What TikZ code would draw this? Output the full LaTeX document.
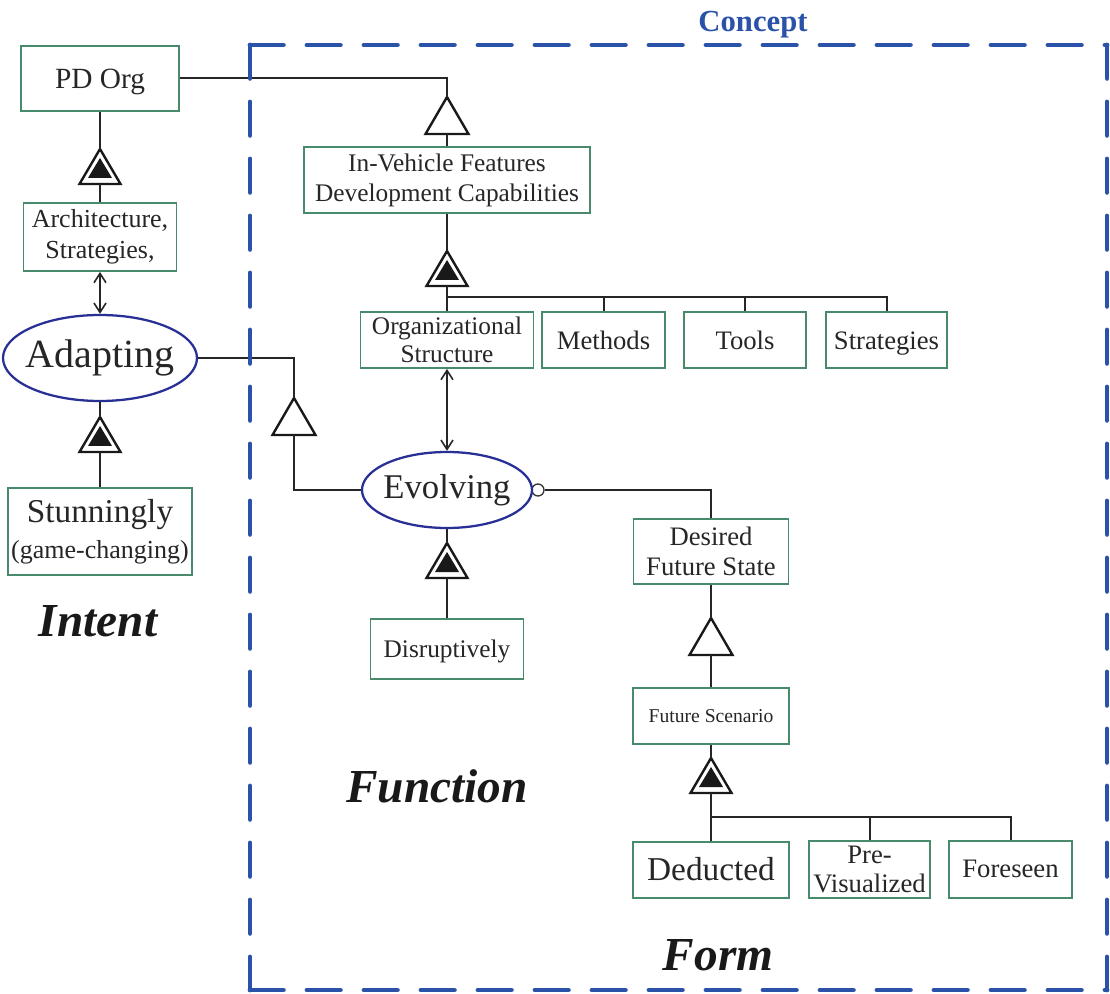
\documentclass[tikz,border=0pt]{standalone}
\usepackage{fontspec}
\setmainfont{Liberation Serif}
\usetikzlibrary{arrows.meta,shapes.geometric}
\definecolor{boxgreen}{RGB}{72,138,108}
\definecolor{ovalblue}{RGB}{40,48,150}
\definecolor{conceptblue}{RGB}{42,82,168}
\newcommand{\fs}[2]{\fontsize{#1}{#2}\selectfont}
\tikzset{
  box/.style={draw=boxgreen, line width=1.4pt, fill=white, inner sep=0pt, align=center, text=black!85},
  oneline/.style 2 args={text height=#1, text depth=#2},
  oval/.style={ellipse, draw=ovalblue, line width=1.7pt, fill=white, inner sep=0pt},
  ovaltext/.style={text=black!85, inner sep=0pt},
  link/.style={line width=1.5pt, draw=black!85},
  twoway/.style={line width=1.2pt, draw=black!85, {Straight Barb[length=7pt,width=9pt]}-{Straight Barb[length=7pt,width=9pt]}},
  tri/.style={line width=1.8pt, fill=white, draw=black!90, line join=miter},
  opentri/.pic={
    \coordinate (-apex) at (0,0);
    \coordinate (-base) at (0,37);
    \draw[tri] (0,0) -- (21.5,37) -- (-21.5,37) -- cycle;
  },
  filltri/.pic={
    \coordinate (-apex) at (0,0);
    \coordinate (-base) at (0,35);
    \draw[tri] (0,0) -- (20.5,35) -- (-20.5,35) -- cycle;
    \fill[black!90] (0,9) -- (12,29) -- (-12,29) -- cycle;
  },
  heading/.style={font=\fs{35.5}{40}\bfseries\itshape, text=black!90},
  concept/.style={draw=conceptblue, line width=3.7pt, line cap=round, dash pattern=on 25pt off 17.75pt},
  knob/.style={circle, draw=black!80, line width=1pt, fill=white, minimum size=9pt, inner sep=0pt},
}
\begin{document}
\begin{tikzpicture}[x=0.75pt,y=-0.75pt]
\useasboundingbox (0,0) rectangle (1110,994);

% ---- Intent side
\node[box, oneline={19.4pt}{4.8pt}, minimum width=118.5pt, minimum height=48.75pt, font=\fs{22}{26}] (pd) at (100,78.5) {PD Org};
\node[box, minimum width=114.75pt, minimum height=51pt, font=\fs{19.5}{23}] (arch) at (100,237) {Architecture,\\Strategies,};
\node[oval, minimum width=145.5pt, minimum height=64.5pt] (adapt) at (100,358) {};
\node[ovaltext, font=\fs{30}{34}] (adaptlabel) at (adapt.center) {Adapting};
\node[box, minimum width=138pt, minimum height=65.25pt, font=\fs{25}{27}] (stun) at (100,531.5) {Stunningly\\\fs{19.5}{24}(game-changing)};
\node[heading] (intent) at (98,621) {Intent};

% ---- Function / concept side
\node[box, minimum width=214.5pt, minimum height=49.5pt, font=\fs{19}{22.5}] (inveh) at (447,180) {In-Vehicle Features\\Development Capabilities};
\node[box, minimum width=129.75pt, minimum height=42pt, font=\fs{19}{21}] (org) at (447,340) {Organizational\\Structure};
\node[box, oneline={18pt}{4.4pt}, minimum width=92.25pt, minimum height=42pt, font=\fs{20}{22}] (meth) at (603.5,340) {Methods};
\node[box, oneline={18pt}{4.4pt}, minimum width=91.5pt, minimum height=42pt, font=\fs{20}{22}] (tools) at (745,340) {Tools};
\node[box, oneline={18pt}{4.4pt}, minimum width=90.75pt, minimum height=42pt, font=\fs{20}{22}] (strat) at (886.5,340) {Strategies};
\node[knob] (knob) at (538,490) {};
\node[oval, minimum width=127.5pt, minimum height=57pt] (evol) at (447,490) {};
\node[ovaltext, font=\fs{26}{30}] (evollabel) at (evol.center) {Evolving};
\node[box, oneline={16.3pt}{4.2pt}, minimum width=114.75pt, minimum height=45pt, font=\fs{19}{22}] (disr) at (447,649) {Disruptively};
\node[heading] (function) at (437,786) {Function};

% ---- Form side
\node[box, minimum width=116.25pt, minimum height=48.75pt, font=\fs{20}{22}] (desired) at (711,551.5) {Desired\\Future State};
\node[box, oneline={12.3pt}{3.2pt}, minimum width=117pt, minimum height=42pt, font=\fs{14.7}{17}] (fscen) at (711,716) {Future Scenario};
\node[box, oneline={20.5pt}{5.5pt}, minimum width=117pt, minimum height=42pt, font=\fs{25}{28}] (ded) at (711,870) {Deducted};
\node[box, minimum width=90.75pt, minimum height=42.75pt, font=\fs{20}{21.5}] (prev) at (869.5,869.5) {Pre-\\Visualized};
\node[box, oneline={17pt}{4.4pt}, minimum width=92.25pt, minimum height=42.75pt, font=\fs{20}{22}] (fore) at (1010.5,869.5) {Foreseen};
\node[heading] (form) at (718,955) {Form};
\node[font=\fs{23}{27}\bfseries, text=conceptblue] (concept) at (753,25) {Concept};

% ---- relation triangles
\pic (ta) at (100,149) {filltri};
\pic (tb) at (447,97) {opentri};
\pic (tc) at (447,251) {filltri};
\pic (td) at (100,417) {filltri};
\pic (te) at (294,398) {opentri};
\pic (tf) at (447,543) {filltri};
\pic (tg) at (711,618) {opentri};
\pic (th) at (711,758) {filltri};

\coordinate (busA) at (447,297);
\coordinate (busB) at (711,817);

% ---- connectors
\draw[link] (pd.south) -- (ta-apex);
\draw[link] (ta-base) -- (arch.north);
\draw[link] (pd.east) -| (tb-apex);
\draw[link] (tb-base) -- (inveh.north);
\draw[link] (inveh.south) -- (tc-apex);
\draw[link] (tc-base) -- (org.north);
\draw[link] (busA) -| (meth.north);
\draw[link] (busA) -| (tools.north);
\draw[link] (busA) -| (strat.north);
\draw[twoway] (arch.south) -- (adapt.north);
\draw[link] (adapt.south) -- (td-apex);
\draw[link] (td-base) -- (stun.north);
\draw[link] (adapt.east) -| (te-apex);
\draw[link] (te-base) |- (evol.west);
\draw[twoway] (org.south) -- (evol.north);
\draw[link] (evol.south) -- (tf-apex);
\draw[link] (tf-base) -- (disr.north);
\draw[link] (knob.east) -| (desired.north);
\draw[link] (desired.south) -- (tg-apex);
\draw[link] (tg-base) -- (fscen.north);
\draw[link] (fscen.south) -- (th-apex);
\draw[link] (th-base) -- (ded.north);
\draw[link] (busB) -| (prev.north);
\draw[link] (busB) -| (fore.north);

% ---- concept frame
\coordinate (cTL) at (250,45);
\coordinate (cTR) at (1107,45);
\coordinate (cBL) at (250,990);
\coordinate (cBR) at (1107,990);
\draw[concept] (cTL) -- (cTR);
\draw[concept] (cTL) -- (cBL);
\draw[concept] (cBL) -- (cBR);
\draw[concept] (cTR) -- (cBR);
\end{tikzpicture}
\end{document}
